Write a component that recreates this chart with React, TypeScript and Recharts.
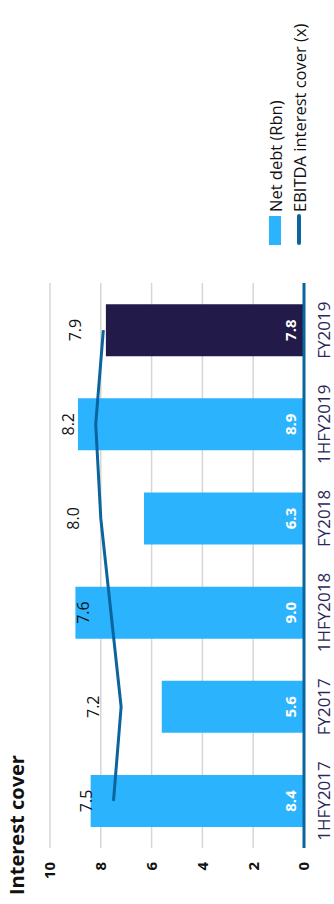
import React from "react";
import { ComposedChart, Bar, Line, XAxis, YAxis, CartesianGrid, Cell, LabelList } from "recharts";

const PERIODS = ["1HFY2017", "FY2017", "1HFY2018", "FY2018", "1HFY2019", "FY2019"];
const NET_DEBT = [8.4, 5.6, 9.0, 6.3, 8.9, 7.8];
const INTEREST_COVER = [7.5, 7.2, 7.6, 8.0, 8.2, 7.9];
const Y_TICKS = [0, 2, 4, 6, 8, 10];

const LIGHT_BLUE = "#2bb3fd";
const NAVY = "#221a48";
const LINE_BLUE = "#0a659f";
const FONT = "'Open Sans', 'Noto Sans', sans-serif";

const data = PERIODS.map((period, i) => ({
  period,
  debt: NET_DEBT[i],
  cover: INTEREST_COVER[i],
}));

const fmt = (v: any) => Number(v).toFixed(1);

function ChartLegend() {
  const row: React.CSSProperties = { display: "flex", alignItems: "center", height: 24, whiteSpace: "nowrap" };
  return (
    <div style={{ position: "absolute", left: 659, top: 263, fontFamily: FONT, fontSize: 16.5, color: "#111" }}>
      <div style={row}>
        <span style={{ display: "inline-block", width: 29, height: 12, background: LIGHT_BLUE, marginRight: 4 }} />
        Net debt (Rbn)
      </div>
      <div style={row}>
        <span style={{ display: "inline-block", width: 31, height: 4, background: LINE_BLUE, borderRadius: 2, marginRight: 2 }} />
        EBITDA interest cover (x)
      </div>
    </div>
  );
}

export default function App() {
  return (
    <div style={{ position: "fixed", left: 0, top: 0, width: 334, height: 904, overflow: "hidden", background: "#fff" }}>
      <div
        style={{
          position: "absolute",
          left: 0,
          top: 0,
          width: 904,
          height: 334,
          transformOrigin: "0 0",
          transform: "translateY(904px) rotate(-90deg)",
          fontFamily: FONT,
        }}
      >
        <div style={{ position: "absolute", left: 9, top: 7, fontSize: 20, lineHeight: "20px", fontWeight: 700, color: "#111" }}>
          Interest cover
        </div>
        <ComposedChart width={904} height={334} data={data} margin={{ top: 50, right: 283, left: 0, bottom: 0 }}>
          <CartesianGrid vertical={false} stroke="#d6d6d6" strokeWidth={1.5} />
          <XAxis
            dataKey="period"
            height={30}
            tickLine={false}
            axisLine={{ stroke: LINE_BLUE, strokeWidth: 3 }}
            tickMargin={8}
            interval={0}
            tick={{ fill: "#2b2858", fontSize: 17, fontFamily: FONT }}
          />
          <YAxis
            width={56}
            domain={[0, 10]}
            ticks={Y_TICKS}
            axisLine={false}
            tickLine={false}
            tickMargin={8}
            tick={{ fill: "#111", fontSize: 15, fontWeight: 700, fontFamily: FONT }}
          />
          <Bar dataKey="debt" barSize={52} isAnimationActive={false}>
            {data.map((_, i) => (
              <Cell key={i} fill={i === data.length - 1 ? NAVY : LIGHT_BLUE} />
            ))}
            <LabelList
              dataKey="debt"
              position="insideBottom"
              offset={8}
              formatter={fmt}
              style={{ fill: "#fff", fontSize: 15, fontWeight: 700, fontFamily: FONT }}
            />
          </Bar>
          <Line
            dataKey="cover"
            type="linear"
            stroke={LINE_BLUE}
            strokeWidth={3}
            dot={false}
            activeDot={false}
            isAnimationActive={false}
          >
            <LabelList
              dataKey="cover"
              position="top"
              offset={22}
              formatter={fmt}
              style={{ fill: "#111", fontSize: 16, fontFamily: FONT }}
            />
          </Line>
        </ComposedChart>
        <ChartLegend />
      </div>
    </div>
  );
}
